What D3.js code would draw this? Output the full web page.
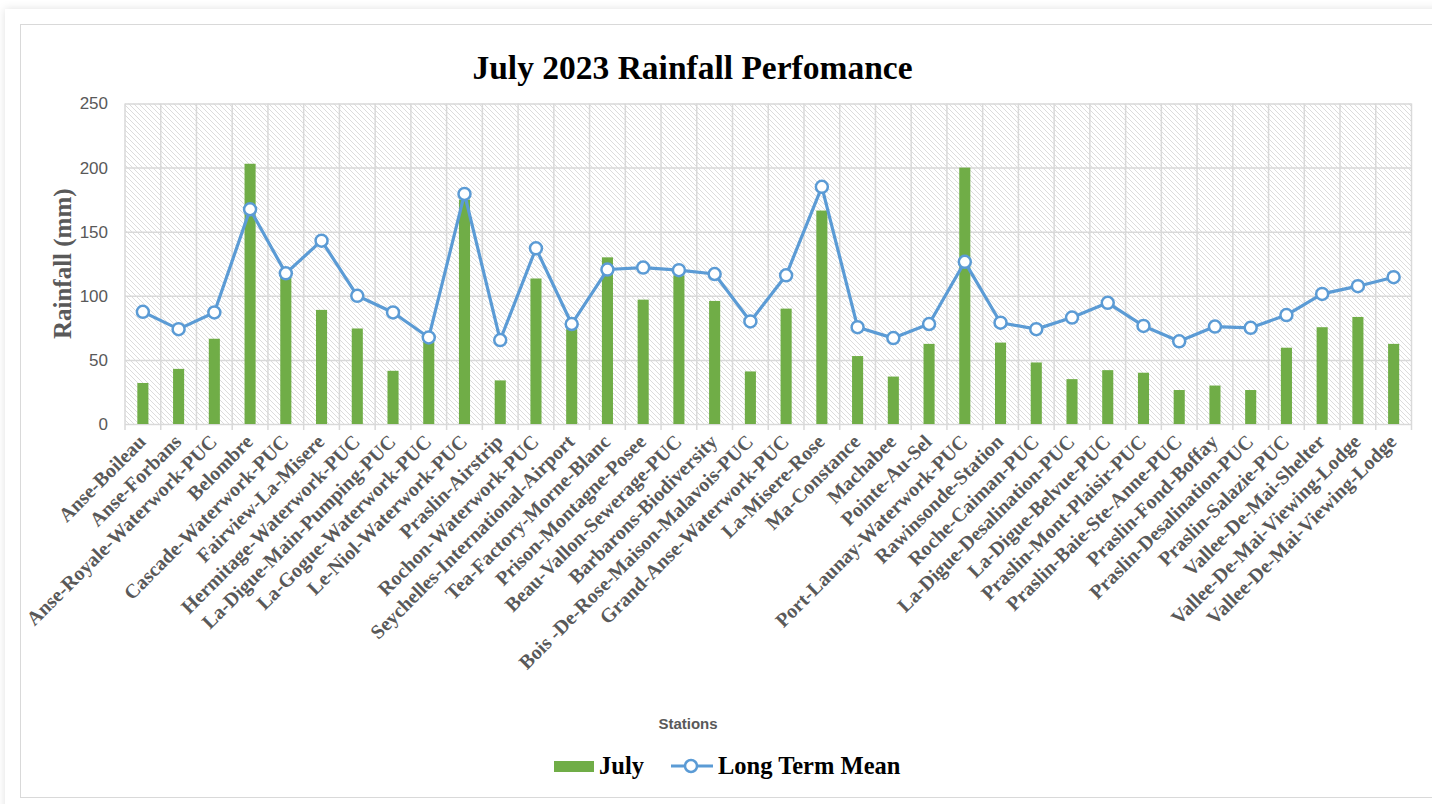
<!DOCTYPE html>
<html>
<head>
<meta charset="utf-8">
<script src="https://d3js.org/d3.v7.min.js"></script>
<style>
  body { margin: 0; background: #ffffff; }
  svg { display: block; }
</style>
</head>
<body>
<div id="chart"></div>
<script>
// station names, in the order of the x axis
var stations = ["Anse-Boileau", "Anse-Forbans", "Anse-Royale-Waterwork-PUC", "Belombre",
  "Cascade-Waterwork-PUC", "Fairview-La-Misere", "Hermitage-Waterwork-PUC",
  "La-Digue-Main-Pumping-PUC", "La-Gogue-Waterwork-PUC", "Le-Niol-Waterwork-PUC",
  "Praslin-Airstrip", "Rochon-Waterwork-PUC", "Seychelles-International-Airport",
  "Tea-Factory-Morne-Blanc", "Prison-Montagne-Posee", "Beau-Vallon-Sewerage-PUC",
  "Barbarons-Biodiversity", "Bois -De-Rose-Maison-Malavois-PUC", "Grand-Anse-Waterwork-PUC",
  "La-Misere-Rose", "Ma-Constance", "Machabee", "Pointe-Au-Sel", "Port-Launay-Waterwork-PUC",
  "Rawinsonde-Station", "Roche-Caiman-PUC", "La-Digue-Desalination-PUC", "La-Digue-Belvue-PUC",
  "Praslin-Mont-Plaisir-PUC", "Praslin-Baie-Ste-Anne-PUC", "Praslin-Fond-Boffay",
  "Praslin-Desalination-PUC", "Praslin-Salazie-PUC", "Vallee-De-Mai-Shelter",
  "Vallee-De-Mai-Viewing-Lodge", "Vallee-De-Mai-Viewing-Lodge"];

// july rainfall (mm), the green bars
var july = [32, 43, 66.5, 203, 115, 89, 74.5, 41.5, 64, 175,
  34, 113.5, 74, 130, 97, 116, 96, 41, 90, 166.5,
  53, 37, 62.5, 200, 63.5, 48, 35, 42, 40, 26.5,
  30, 26.5, 59.5, 75.5, 83.5, 62.5];

// long term mean (mm), the blue line
var longTermMean = [87.5, 74, 87, 167.5, 117.5, 143, 100, 87, 67.5, 179.5,
  65.5, 137, 78, 120.5, 122, 120, 117, 80, 116, 185,
  75.5, 67, 78, 126.5, 79, 74, 83, 94.5, 76.5, 64.5,
  76, 75, 85, 101.5, 107.5, 114.5];

var yTicks = [0, 50, 100, 150, 200, 250];

var width = 1432, height = 804;
var plot = {left: 125, right: 1411.5, top: 103.5, bottom: 424};

var barColor = "#70ad47", lineColor = "#5b9bd5", gridColor = "#d9d9d9", textGray = "#595959";

// this builds the canvas
var svg = d3.select("#chart").append("svg")
    .attr("width", width)
    .attr("height", height);

// hatched plot background
var defs = svg.append("defs");
defs.append("pattern")
    .attr("id", "hatch")
    .attr("patternUnits", "userSpaceOnUse")
    .attr("width", 5)
    .attr("height", 5)
  .append("path")
    .attr("d", "M-1,-1L6,6M-1,4L1,6M4,-1L6,1")
    .attr("stroke", "#dcdcdc")
    .attr("stroke-width", 1);

defs.append("filter")
    .attr("id", "shadow")
    .attr("x", "-5%").attr("y", "-5%").attr("width", "110%").attr("height", "110%")
  .append("feDropShadow")
    .attr("dx", 0).attr("dy", 0)
    .attr("stdDeviation", 4)
    .attr("flood-color", "#000")
    .attr("flood-opacity", 0.12);

// outer card and chart frame
svg.append("rect")
    .attr("x", 5).attr("y", 9)
    .attr("width", width + 20).attr("height", height + 20)
    .attr("fill", "#fff")
    .attr("filter", "url(#shadow)");

svg.append("rect")
    .attr("x", 20.5).attr("y", 24.5)
    .attr("width", width).attr("height", 773)
    .attr("fill", "#fff")
    .attr("stroke", gridColor);

// scales
var x = d3.scaleBand()
    .domain(d3.range(stations.length))
    .range([plot.left, plot.right])
    .padding(0);

var y = d3.scaleLinear()
    .domain([0, 250])
    .range([plot.bottom, plot.top]);

svg.append("rect")
    .attr("x", plot.left).attr("y", plot.top)
    .attr("width", plot.right - plot.left)
    .attr("height", plot.bottom - plot.top)
    .attr("fill", "url(#hatch)");

// horizontal gridlines
svg.append("g")
    .attr("class", "ygrid")
    .attr("transform", "translate(" + plot.left + ",0)")
    .call(d3.axisLeft(y).tickValues(yTicks).tickSize(-(plot.right - plot.left)).tickFormat(""))
    .call(function(g) { g.select(".domain").remove(); })
    .selectAll("line")
    .attr("stroke", gridColor)
    .attr("stroke-width", 1.5);

// vertical gridlines, running a bit under the axis as tick marks
var edges = d3.range(stations.length).map(function(i) { return x(i); }).concat([x.range()[1]]);
svg.append("g")
    .attr("class", "xgrid")
    .selectAll("line")
    .data(edges)
    .enter().append("line")
    .attr("x1", function(d) { return d; })
    .attr("x2", function(d) { return d; })
    .attr("y1", plot.top)
    .attr("y2", plot.bottom + 6)
    .attr("stroke", gridColor)
    .attr("stroke-width", 1.5);

// y tick labels
var yAxis = svg.append("g")
    .attr("transform", "translate(" + plot.left + ",0)")
    .call(d3.axisLeft(y).tickValues(yTicks).tickSize(0).tickPadding(17));
yAxis.select(".domain").remove();
yAxis.selectAll("text")
    .attr("fill", textGray)
    .style("font-family", "'Liberation Sans', Arial, sans-serif")
    .style("font-size", "17px");

// the bars
var barW = x.bandwidth() * 0.31;
svg.append("g")
    .attr("class", "bars")
    .selectAll("rect")
    .data(july)
    .enter().append("rect")
    .attr("x", function(d, i) { return x(i) + x.bandwidth() / 2 - barW / 2; })
    .attr("y", function(d) { return y(d); })
    .attr("width", barW)
    .attr("height", function(d) { return y(0) - y(d); })
    .attr("fill", barColor);

// the long term mean line
var line = d3.line()
    .x(function(d, i) { return x(i) + x.bandwidth() / 2; })
    .y(function(d) { return y(d); });

svg.append("path")
    .datum(longTermMean)
    .attr("d", line)
    .attr("fill", "none")
    .attr("stroke", lineColor)
    .attr("stroke-width", 3.2)
    .attr("stroke-linejoin", "round");

svg.append("g")
    .attr("class", "markers")
    .selectAll("circle")
    .data(longTermMean)
    .enter().append("circle")
    .attr("cx", function(d, i) { return x(i) + x.bandwidth() / 2; })
    .attr("cy", function(d) { return y(d); })
    .attr("r", 6)
    .attr("fill", "#fff")
    .attr("stroke", lineColor)
    .attr("stroke-width", 2.5);

// rotated station labels
svg.append("g")
    .attr("class", "xlabels")
    .selectAll("text")
    .data(stations)
    .enter().append("text")
    .attr("transform", function(d, i) {
      return "translate(" + (x(i) + x.bandwidth() / 2 + 4) + "," + (plot.bottom + 19) + ") rotate(-45)";
    })
    .attr("text-anchor", "end")
    .attr("fill", textGray)
    .style("font-family", "'Liberation Serif', 'Times New Roman', serif")
    .style("font-weight", "bold")
    .style("font-size", "20px")
    .text(function(d) { return d; });

// titles
svg.append("text")
    .attr("x", 692.5)
    .attr("y", 79)
    .attr("text-anchor", "middle")
    .attr("fill", "#000")
    .style("font-family", "'Liberation Serif', 'Times New Roman', serif")
    .style("font-weight", "bold")
    .style("font-size", "33.5px")
    .text("July 2023 Rainfall Perfomance");

svg.append("text")
    .attr("transform", "translate(71," + ((plot.top + plot.bottom) / 2) + ") rotate(-90)")
    .attr("text-anchor", "middle")
    .attr("fill", textGray)
    .style("font-family", "'Liberation Serif', 'Times New Roman', serif")
    .style("font-weight", "bold")
    .style("font-size", "25px")
    .text("Rainfall (mm)");

svg.append("text")
    .attr("x", 688)
    .attr("y", 729)
    .attr("text-anchor", "middle")
    .attr("fill", textGray)
    .style("font-family", "'Liberation Sans', Arial, sans-serif")
    .style("font-weight", "bold")
    .style("font-size", "15px")
    .text("Stations");

// legend
var legend = svg.append("g").attr("class", "legend");
legend.append("rect")
    .attr("x", 554).attr("y", 761)
    .attr("width", 40).attr("height", 11)
    .attr("fill", barColor);
legend.append("text")
    .attr("x", 599).attr("y", 774)
    .attr("fill", "#000")
    .style("font-family", "'Liberation Serif', 'Times New Roman', serif")
    .style("font-weight", "bold")
    .style("font-size", "24.5px")
    .text("July");
legend.append("line")
    .attr("x1", 671).attr("x2", 713)
    .attr("y1", 766).attr("y2", 766)
    .attr("stroke", lineColor)
    .attr("stroke-width", 3.2);
legend.append("circle")
    .attr("cx", 691).attr("cy", 766)
    .attr("r", 6)
    .attr("fill", "#fff")
    .attr("stroke", lineColor)
    .attr("stroke-width", 2.5);
legend.append("text")
    .attr("x", 718).attr("y", 774)
    .attr("fill", "#000")
    .style("font-family", "'Liberation Serif', 'Times New Roman', serif")
    .style("font-weight", "bold")
    .style("font-size", "24.5px")
    .text("Long Term Mean");
</script>
</body>
</html>
